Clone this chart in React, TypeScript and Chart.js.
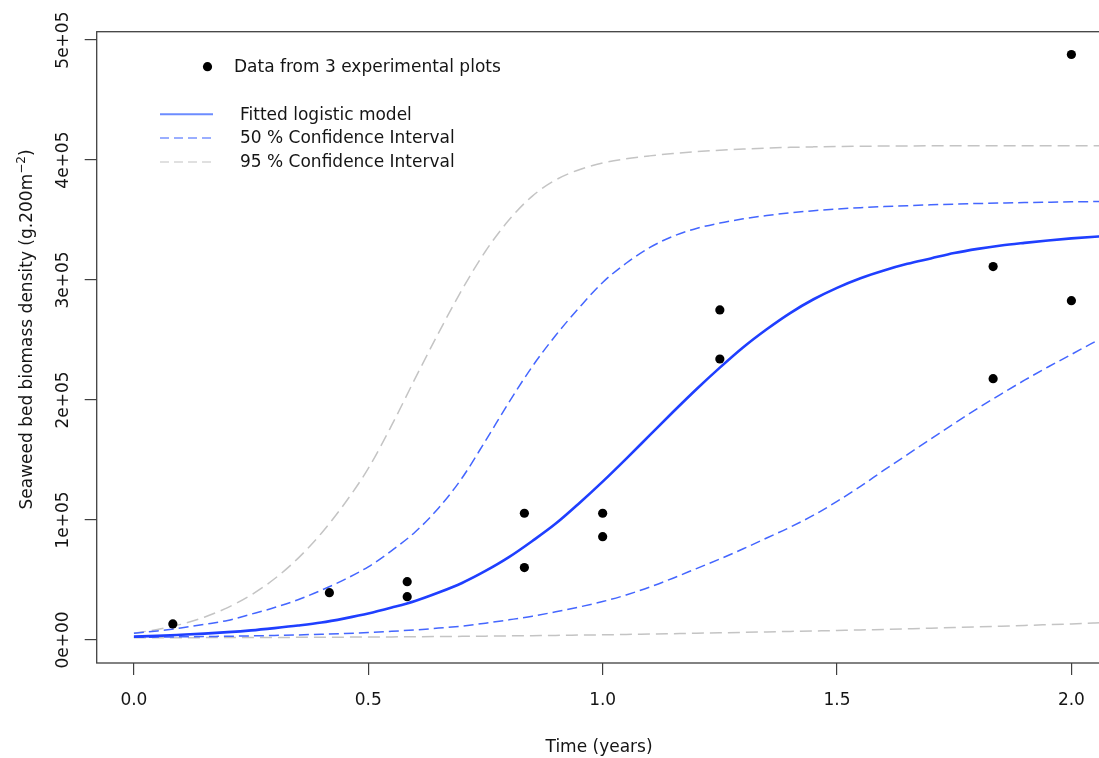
import React, { useEffect, useRef } from "react";
import { Chart, registerables } from "chart.js";

Chart.register(...registerables);

// ---- data ----
const curveTimes = [0, 0.05, 0.1, 0.15, 0.2, 0.25, 0.3, 0.35, 0.4, 0.45, 0.5, 0.55, 0.6, 0.65, 0.7, 0.75, 0.8, 0.85, 0.9, 0.95, 1.0, 1.05, 1.1, 1.15, 1.2, 1.25, 1.3, 1.35, 1.4, 1.45, 1.5, 1.55, 1.6, 1.65, 1.7, 1.75, 1.8, 1.85, 1.9, 1.95, 2.0, 2.05, 2.1];
const fittedModel = [2800, 3400, 4300, 5300, 6500, 8000, 9900, 12000, 14500, 18000, 22000, 27000, 32500, 39500, 47500, 57500, 69000, 82500, 97000, 114000, 132000, 151000, 170500, 190000, 209000, 227000, 244000, 259000, 272500, 284000, 293500, 301500, 308000, 313500, 318000, 322500, 326000, 328800, 331000, 333000, 334700, 336100, 337300];
const ci50Upper = [5600, 7500, 10000, 13000, 16300, 21500, 27000, 33500, 41500, 50500, 61000, 74500, 90000, 110000, 135000, 166000, 198000, 228000, 254000, 277000, 298000, 314000, 327000, 336500, 343000, 347500, 351000, 353800, 356000, 357800, 359200, 360300, 361200, 362000, 362700, 363300, 363800, 364200, 364600, 364900, 365200, 365400, 365600];
const ci50Lower = [2200, 2400, 2600, 2850, 3100, 3400, 3800, 4200, 4800, 5400, 6200, 7200, 8400, 9900, 11600, 14000, 16800, 19800, 23500, 27500, 32000, 37500, 44000, 51500, 59500, 67500, 76000, 85000, 94000, 104000, 115500, 128000, 141500, 154500, 167500, 180500, 193000, 205000, 216500, 227500, 238000, 248500, 258000];
const ci95Upper = [5600, 8800, 13000, 19000, 27000, 37500, 51000, 68000, 89000, 114000, 143000, 179000, 218000, 256000, 292000, 324000, 350000, 370000, 383500, 392000, 397500, 401000, 403500, 405500, 407000, 408200, 409200, 410000, 410600, 411000, 411300, 411500, 411700, 411800, 411900, 412000, 412000, 412000, 412000, 412000, 412000, 412000, 412000];
const ci95Lower = [1800, 1850, 1900, 1950, 2000, 2050, 2100, 2170, 2250, 2350, 2450, 2570, 2700, 2850, 3000, 3200, 3400, 3600, 3800, 4050, 4300, 4600, 4900, 5250, 5600, 5950, 6300, 6700, 7100, 7500, 7900, 8350, 8800, 9300, 9800, 10350, 10900, 11500, 12100, 12750, 13400, 14100, 14800];

const obsTime = [0.083, 0.417, 0.583, 0.583, 0.833, 0.833, 1.0, 1.0, 1.25, 1.25, 1.833, 1.833, 2.0, 2.0];
const obsBiomass = [13400, 39400, 48600, 36100, 105600, 60300, 105600, 86100, 275100, 234200, 311200, 217800, 488000, 282800];

const xTickValues = [0, 0.5, 1.0, 1.5, 2.0];
const xTickLabels = ["0.0", "0.5", "1.0", "1.5", "2.0"];
const yTickValues = [0, 100000, 200000, 300000, 400000, 500000];
const yTickLabels = ["0e+00", "1e+05", "2e+05", "3e+05", "4e+05", "5e+05"];

const xTitle = "Time (years)";
const yTitleMain = "Seaweed bed biomass density (g.200m";
const yTitleSup = "\u22122";
const yTitleEnd = ")";

const legendPointLabel = "Data from 3 experimental plots";
const legendLineLabels = ["Fitted logistic model", "50 % Confidence Interval", "95 % Confidence Interval"];

const FONT = "'DejaVu Sans', 'Liberation Sans', Arial, sans-serif";
const TEXT = "#151515";
const AXIS = "#404040";
const BLUE = "#1f3fff";
const BLUE_DASH = "#4466ff";
const GRAY = "#c4c4c4";

const pairs = (xs: number[], ys: number[]) => xs.map((x, i) => ({ x, y: ys[i] }));

const rPlotPlugin = {
  id: "rPlotDecor",
  afterDraw(chart: any) {
    const ctx = chart.ctx as CanvasRenderingContext2D;
    const a = chart.chartArea;
    const ys = chart.scales.y;
    ctx.save();
    // box
    ctx.strokeStyle = AXIS;
    ctx.lineWidth = 1.3;
    ctx.setLineDash([]);
    ctx.strokeRect(a.left, a.top, a.right - a.left, a.bottom - a.top);

    // rotated y tick labels
    ctx.fillStyle = TEXT;
    ctx.font = `17px ${FONT}`;
    yTickValues.forEach((v, i) => {
      const py = ys.getPixelForValue(v);
      ctx.save();
      ctx.translate(67.5, py);
      ctx.rotate(-Math.PI / 2);
      ctx.textAlign = "center";
      ctx.textBaseline = "alphabetic";
      ctx.fillText(yTickLabels[i], 0, 0);
      ctx.restore();
    });

    // y title with superscript
    ctx.save();
    ctx.translate(32, 329.5);
    ctx.rotate(-Math.PI / 2);
    ctx.textBaseline = "alphabetic";
    ctx.textAlign = "left";
    ctx.font = `17px ${FONT}`;
    const w1 = ctx.measureText(yTitleMain).width;
    const w3 = ctx.measureText(yTitleEnd).width;
    ctx.font = `12px ${FONT}`;
    const w2 = ctx.measureText(yTitleSup).width;
    const total = w1 + w2 + w3;
    let sx = -total / 2;
    ctx.font = `17px ${FONT}`;
    ctx.fillText(yTitleMain, sx, 0);
    sx += w1;
    ctx.font = `12px ${FONT}`;
    ctx.fillText(yTitleSup, sx, -7);
    sx += w2;
    ctx.font = `17px ${FONT}`;
    ctx.fillText(yTitleEnd, sx, 0);
    ctx.restore();

    // legend
    ctx.font = `17px ${FONT}`;
    ctx.textAlign = "left";
    ctx.textBaseline = "middle";
    ctx.fillStyle = "#000";
    ctx.beginPath();
    ctx.arc(207.5, 66.7, 4.6, 0, Math.PI * 2);
    ctx.fill();
    ctx.fillStyle = TEXT;
    ctx.fillText(legendPointLabel, 234, 67.5);

    const lineStyles = [
      { color: "#6c8cff", dash: [] as number[], width: 2 },
      { color: "#7a94ff", dash: [9, 5], width: 1.6 },
      { color: "#d6d6d6", dash: [9, 5], width: 1.6 },
    ];
    const rowsY = [114.3, 138, 162];
    legendLineLabels.forEach((lab, i) => {
      const s = lineStyles[i];
      ctx.strokeStyle = s.color;
      ctx.lineWidth = s.width;
      ctx.setLineDash(s.dash);
      ctx.beginPath();
      ctx.moveTo(160, rowsY[i]);
      ctx.lineTo(213, rowsY[i]);
      ctx.stroke();
      ctx.setLineDash([]);
      ctx.fillStyle = TEXT;
      ctx.fillText(lab, 240, rowsY[i] + 1);
    });
    ctx.restore();
  },
};

export default function App() {
  const canvasRef = useRef<HTMLCanvasElement | null>(null);

  useEffect(() => {
    const canvas = canvasRef.current;
    if (!canvas) return;
    const lineDs = (label: string, ys: number[], color: string, width: number, dash: number[]) => ({
      type: "scatter" as const,
      label,
      data: pairs(curveTimes, ys),
      showLine: true,
      borderColor: color,
      backgroundColor: color,
      borderWidth: width,
      borderDash: dash,
      pointRadius: 0,
      pointHoverRadius: 0,
      cubicInterpolationMode: "monotone" as const,
      fill: false,
    });

    const chart = new Chart(canvas, {
      type: "scatter",
      data: {
        datasets: [
          {
            label: legendPointLabel,
            data: pairs(obsTime, obsBiomass),
            pointRadius: 4.6,
            pointHoverRadius: 4.6,
            backgroundColor: "#000",
            borderWidth: 0,
            showLine: false,
          },
          lineDs("Fitted logistic model", fittedModel, BLUE, 2.6, []),
          lineDs("50 % CI upper", ci50Upper, BLUE_DASH, 1.5, [10, 5]),
          lineDs("50 % CI lower", ci50Lower, BLUE_DASH, 1.5, [10, 5]),
          lineDs("95 % CI upper", ci95Upper, GRAY, 1.5, [12, 6]),
          lineDs("95 % CI lower", ci95Lower, GRAY, 1.5, [12, 6]),
        ] as any,
      },
      options: {
        animation: false,
        responsive: false,
        devicePixelRatio: 1,
        events: [],
        layout: { padding: { top: 31.7, right: 3, left: 0, bottom: 0 } },
        plugins: {
          legend: { display: false },
          tooltip: { enabled: false },
        },
        scales: {
          x: {
            type: "linear",
            min: -0.0794,
            max: 2.064,
            afterBuildTicks: (s: any) => {
              s.ticks = xTickValues.map((v) => ({ value: v }));
            },
            afterFit: (s: any) => {
              s.height = 95;
            },
            grid: {
              drawOnChartArea: false,
              drawTicks: true,
              tickLength: 12,
              color: AXIS,
              lineWidth: 1.2,
            },
            border: { display: false },
            ticks: {
              autoSkip: false,
              maxRotation: 0,
              minRotation: 0,
              padding: 15,
              color: TEXT,
              font: { family: FONT, size: 17 },
              callback: (_v: any, i: number) => xTickLabels[i],
            },
            title: {
              display: true,
              text: xTitle,
              color: TEXT,
              font: { family: FONT, size: 17 },
              padding: { top: 0, bottom: 0 },
            },
          },
          y: {
            type: "linear",
            min: -19200,
            max: 507000,
            afterBuildTicks: (s: any) => {
              s.ticks = yTickValues.map((v) => ({ value: v }));
            },
            afterFit: (s: any) => {
              s.width = 96.7;
            },
            grid: {
              drawOnChartArea: false,
              drawTicks: true,
              tickLength: 12,
              color: AXIS,
              lineWidth: 1.2,
            },
            border: { display: false },
            ticks: { display: false },
          },
        },
      } as any,
      plugins: [rPlotPlugin],
    });
    return () => chart.destroy();
  }, []);

  return (
    <div
      style={{
        position: "fixed",
        left: 0,
        top: 0,
        width: 1099,
        height: 758,
        overflow: "hidden",
        background: "#ffffff",
      }}
    >
      <canvas ref={canvasRef} width={1106} height={758} style={{ display: "block", width: 1106, height: 758 }} />
    </div>
  );
}
